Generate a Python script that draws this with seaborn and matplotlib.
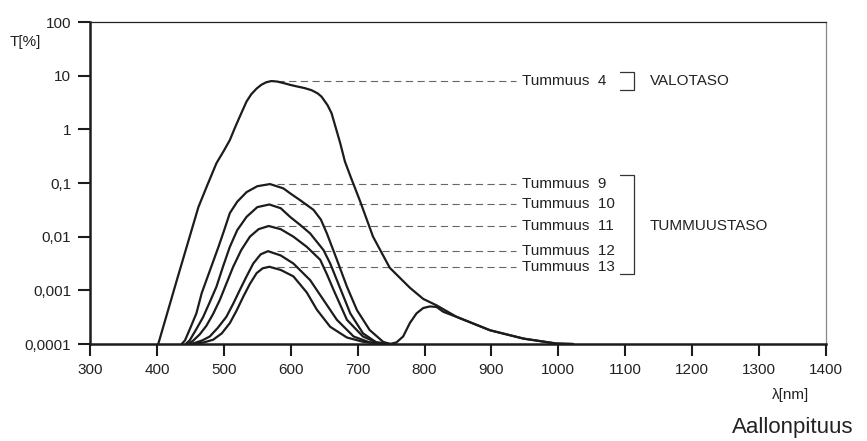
import matplotlib
matplotlib.use("Agg")
import matplotlib.pyplot as plt
import seaborn as sns
import pandas as pd
from matplotlib.ticker import FixedLocator, FixedFormatter, NullLocator

# ---------------- data (wavelength nm, transmittance %) ----------------
t4_nm = [402, 430, 462, 475, 489, 500, 509, 517, 524, 534, 541, 549, 556, 563, 571, 580,
         590, 600, 609, 620, 631, 640, 646, 655, 661, 668, 674, 681, 690, 704, 723, 748,
         778, 798, 818, 848, 898, 948, 997, 1022]
t4_T = [0.0001, 0.00158, 0.0355, 0.0891, 0.234, 0.398, 0.631, 1.1, 1.74, 3.31, 4.5, 5.75,
        6.75, 7.5, 7.94, 7.76, 7.24, 6.7, 6.31, 5.9, 5.37, 4.7, 4.07, 2.82, 2.0, 1.0, 0.55,
        0.251, 0.126, 0.0447, 0.01, 0.00263, 0.00112, 0.000692, 0.000525, 0.00032,
        0.00018, 0.000126, 0.000102, 0.0001]

t9_nm = [437, 442, 450, 459, 467, 474, 483, 492, 500, 509, 520, 534, 550, 569, 589, 600,
         614, 634, 645, 654, 662, 669, 684, 699, 718, 738, 748]
t9_T = [0.0001, 0.000117, 0.0002, 0.000372, 0.000891, 0.00155, 0.00316, 0.00646, 0.0126,
        0.0275, 0.0447, 0.0676, 0.0871, 0.0955, 0.0794, 0.0631, 0.0479, 0.0316, 0.0209,
        0.0115, 0.00631, 0.00372, 0.00117, 0.000427, 0.000182, 0.00011, 0.0001]

t10_nm = [443, 449, 459, 469, 479, 489, 499, 509, 520, 534, 550, 568, 585, 599, 614, 629,
          649, 659, 669, 689, 708, 728, 748]
t10_T = [0.0001, 0.000117, 0.00019, 0.000316, 0.000603, 0.00117, 0.00282, 0.00646, 0.0132,
         0.0234, 0.0355, 0.0398, 0.0339, 0.0234, 0.0166, 0.0115, 0.00562, 0.00316, 0.00155,
         0.000372, 0.000158, 0.000107, 0.0001]

t11_nm = [447, 454, 464, 474, 484, 494, 504, 514, 526, 539, 552, 567, 585, 604, 624, 644,
          654, 664, 684, 708, 728, 748]
t11_T = [0.0001, 0.000115, 0.000151, 0.000219, 0.000363, 0.000661, 0.00135, 0.00275,
         0.00562, 0.01, 0.0138, 0.0158, 0.0138, 0.01, 0.00646, 0.00372, 0.002, 0.00102,
         0.000282, 0.000138, 0.000107, 0.0001]

t12_nm = [450, 457, 468, 479, 491, 504, 514, 524, 534, 544, 555, 566, 585, 604, 629, 649,
          669, 694, 718, 748]
t12_T = [0.0001, 0.000105, 0.000117, 0.000138, 0.0002, 0.000324, 0.000562, 0.00102,
         0.00182, 0.00316, 0.00468, 0.00537, 0.00447, 0.00316, 0.00155, 0.000661,
         0.000282, 0.000138, 0.000107, 0.0001]

t13_nm = [453, 470, 484, 497, 509, 519, 529, 539, 549, 558, 568, 585, 604, 624, 639, 659,
          684, 708, 733, 748]
t13_T = [0.0001, 0.000107, 0.00012, 0.000158, 0.000245, 0.000417, 0.000759, 0.00132,
         0.00209, 0.00257, 0.00275, 0.0024, 0.00182, 0.000912, 0.000437, 0.000209,
         0.000132, 0.00011, 0.000102, 0.0001]

# shared near-infrared tail of the dark filters
ir_nm = [748, 758, 768, 778, 788, 798, 808, 818, 828, 848, 898, 948, 997, 1022]
ir_T = [0.0001, 0.000107, 0.000138, 0.000245, 0.000372, 0.000468, 0.000501, 0.00049,
        0.000398, 0.00032, 0.00018, 0.000126, 0.000102, 0.0001]

shade_labels = ["Tummuus  4", "Tummuus  9", "Tummuus  10", "Tummuus  11",
                "Tummuus  12", "Tummuus  13"]
shade_peaks = [7.94, 0.0955, 0.0398, 0.0158, 0.00537, 0.00275]

x_ticks = [300, 400, 500, 600, 700, 800, 900, 1000, 1100, 1200, 1300, 1400]
y_ticks = [0.0001, 0.001, 0.01, 0.1, 1, 10, 100]
y_tick_labels = ["0,0001", "0,001", "0,01", "0,1", "1", "10", "100"]

# ---------------- styling ----------------
sns.set_theme(style="white")
plt.rcParams["font.family"] = ["Liberation Sans", "DejaVu Sans"]

fig = plt.figure(figsize=(8.67, 4.41), dpi=100)
ax = fig.add_axes([90 / 867, 1 - 344 / 441, (826 - 90) / 867, (344 - 22) / 441])

curves = [(t4_nm, t4_T), (t9_nm, t9_T), (t10_nm, t10_T), (t11_nm, t11_T),
          (t12_nm, t12_T), (t13_nm, t13_T), (ir_nm, ir_T)]
line_color = "#1c1c1c"
for nm, T in curves:
    df = pd.DataFrame({"nm": nm, "T": T})
    sns.lineplot(data=df, x="nm", y="T", ax=ax, color=line_color, lw=1.6,
                 estimator=None, sort=False, zorder=3)

ax.set_yscale("log")
ax.set_xlim(300, 1400)
ax.set_ylim(0.0001, 100)

# dashed leader lines and labels
dash_start = 580
dash_end = 937
label_x = 945
for lab, pk in zip(shade_labels, shade_peaks):
    ax.plot([dash_start, dash_end], [pk, pk], color="#666666", lw=0.8,
            ls=(0, (6.5, 4)), zorder=2)
    ax.text(label_x, pk, lab, ha="left", va="center", fontsize=11, color="#222222")

# brackets
bx0, bx1 = 1092, 1113
ax.plot([bx0, bx1, bx1, bx0], [11.9, 11.9, 5.4, 5.4], color="#333333", lw=0.9,
        solid_joinstyle="miter")
ax.text(1137, 7.94, "VALOTASO", ha="left", va="center", fontsize=11, color="#222222")
ax.plot([bx0, bx1, bx1, bx0], [0.141, 0.141, 0.00202, 0.00202], color="#333333",
        lw=0.9, solid_joinstyle="miter")
ax.text(1137, 0.0158, "TUMMUUSTASO", ha="left", va="center", fontsize=11,
        color="#222222")

# axes / ticks
ax.xaxis.set_major_locator(FixedLocator(x_ticks))
ax.yaxis.set_major_locator(FixedLocator(y_ticks))
ax.yaxis.set_major_formatter(FixedFormatter(y_tick_labels))
ax.yaxis.set_minor_locator(NullLocator())
ax.xaxis.set_minor_locator(NullLocator())
ax.tick_params(axis="both", which="major", direction="out", length=8.5, width=1.5,
               color="#1c1c1c", labelsize=11, labelcolor="#222222", pad=5,
               bottom=True, left=True, top=False, right=False)
ax.set_xlabel("")
ax.set_ylabel("")

for side in ["left", "bottom"]:
    ax.spines[side].set_linewidth(1.8)
    ax.spines[side].set_color("#1c1c1c")
ax.spines["top"].set_linewidth(0.9)
ax.spines["top"].set_color("#222222")
ax.spines["right"].set_linewidth(0.9)
ax.spines["right"].set_color("#888888")
for s in ax.spines.values():
    s.set_zorder(5)

fig.text(25 / 867, 1 - 42 / 441, "T[%]", ha="center", va="center", fontsize=11,
         color="#222222")
fig.text(791 / 867, 1 - 395 / 441, "λ[nm]", ha="center", va="center", fontsize=11,
         color="#222222")
fig.text(793 / 867, 1 - 428 / 441, "Aallonpituus", ha="center", va="center",
         fontsize=16, color="#222222")

fig.savefig("out.png", dpi=100)
